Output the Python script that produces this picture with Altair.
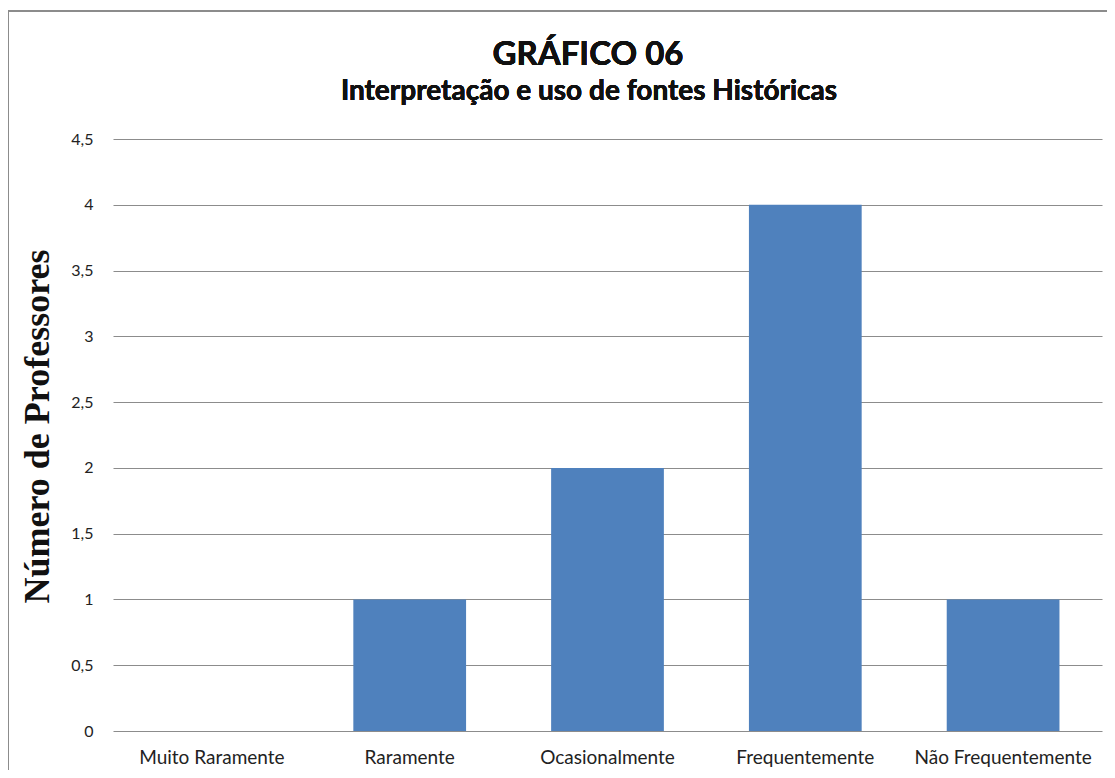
import altair as alt
import pandas as pd

categorias = ["Muito Raramente", "Raramente", "Ocasionalmente", "Frequentemente", "Não Frequentemente"]
professores = [0, 1, 2, 4, 1]
y_ticks = [0, 0.5, 1, 1.5, 2, 2.5, 3, 3.5, 4, 4.5]
titulo = "GRÁFICO 06"
subtitulo = "Interpretação e uso de fontes Históricas"

df = pd.DataFrame({"categoria": categorias, "valor": professores})

bars = alt.Chart(df).mark_bar(color="#4F81BD").encode(
    x=alt.X("categoria:N", sort=categorias,
            scale=alt.Scale(paddingInner=0.43, paddingOuter=0.215),
            axis=alt.Axis(title=None, labelAngle=0, labelFont="Lato", labelFontSize=19,
                          labelColor="#222", labelPadding=17, labelLimit=400,
                          ticks=False, domain=False, grid=False)),
    y=alt.Y("valor:Q", scale=alt.Scale(domain=[0, 4.5], nice=False),
            axis=alt.Axis(title="Número de Professores", values=y_ticks,
                          labelExpr="replace(format(datum.value, '~g'), '.', ',')",
                          labelFont="Lato", labelFontSize=16, labelColor="#222",
                          labelPadding=20, ticks=False, domain=False,
                          grid=True, gridColor="#8c8c8c", gridWidth=1.2,
                          titleFont="Liberation Serif", titleFontSize=36,
                          titleFontWeight="bold", titleColor="#111",
                          titleAngle=-90, titleX=-76, titleY=287,
                          titleAlign="center", titleBaseline="middle")),
)

border = alt.Chart(df).mark_rect(fillOpacity=0, stroke="#8c8c8c", strokeWidth=1.5).encode(
    x=alt.value(-105), x2=alt.value(1010), y=alt.value(-128), y2=alt.value(650)
)

title_mark = alt.Chart(df).mark_text(
    text=titulo, font="Lato", fontSize=33, fontWeight="bold", color="#111",
    align="center", baseline="alphabetic"
).encode(x=alt.value(475), y=alt.value(-74))

subtitle_mark = alt.Chart(df).mark_text(
    text=subtitulo, font="Lato", fontSize=28, fontWeight="bold", color="#111",
    align="center", baseline="alphabetic"
).encode(x=alt.value(476), y=alt.value(-39))

chart = alt.layer(border, bars, title_mark, subtitle_mark).properties(
    width=989, height=592,
    autosize=alt.AutoSizeParams(type="none"),
    padding={"left": 105, "top": 131, "right": 5, "bottom": 39},
).configure_view(stroke=None)

chart.save("out.html", embed_options={"renderer": "svg", "actions": False})
